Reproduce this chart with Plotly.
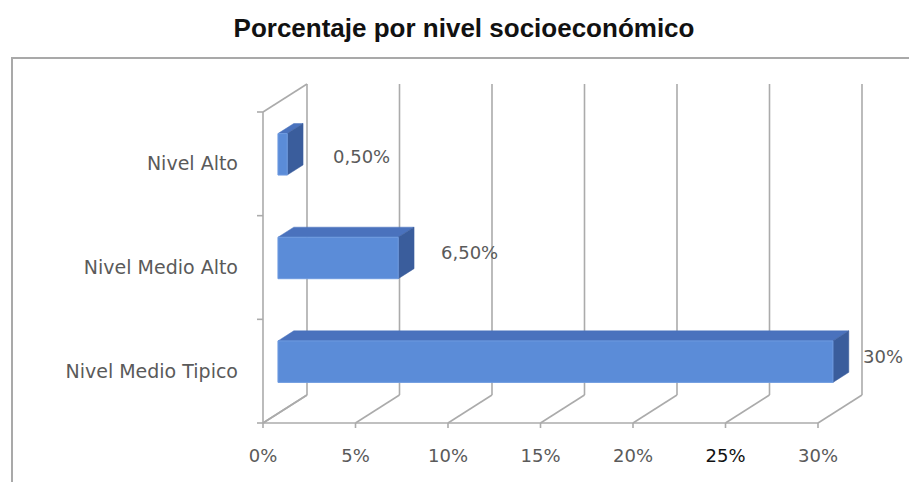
import plotly.graph_objects as go

# ---------------- data ----------------
categories = ["Nivel Medio Tipico", "Nivel Medio Alto", "Nivel Alto"]
values = [30.0, 6.5, 0.5]
value_labels = ["30%", "6,50%", "0,50%"]
x_ticks = [0, 5, 10, 15, 20, 25, 30]
x_tick_labels = ["0%", "5%", "10%", "15%", "20%", "25%", "30%"]

# ---------------- style ----------------
W, H = 909, 482
ML, MR, MT, MB = 256, 6, 82, 53
KX = 18.5        # px per percent
KY = 103.67      # px per category
X0 = -7 / KX
X1 = X0 + (W - ML - MR) / KX
Y0 = -0.5 - 6 / KY
Y1 = Y0 + (H - MT - MB) / KY
DX = 44 / KX     # depth offset (x)
DY = 28 / KY     # depth offset (y)
F1, F2 = 0.34, 0.70   # bar front/back depth fractions
BH = 0.2              # half bar height (category units)
GRID = "#ababab"
TXT = "#5a5a5a"
FRONT = "#5b8cd8"
TOP = "#4a72bd"
SIDE = "#3a5d9c"
label_xshift = [12, 25, 28]
label_yshift = [5, 5, -2]
FONT = "DejaVu Sans"

fig = go.Figure()

# walls / floor grid
gx, gy = [], []
ymin, ymax = -0.5, len(categories) - 0.5
# left wall
for seg in [((0, ymin), (0, ymax)), ((0, ymax), (DX, ymax + DY)), ((0, ymin), (DX, ymin + DY))]:
    gx += [seg[0][0], seg[1][0], None]
    gy += [seg[0][1], seg[1][1], None]
for v in x_ticks:
    # back wall vertical gridline
    gx += [v + DX, v + DX, None]
    gy += [ymin + DY, ymax + DY, None]
    # floor diagonal
    gx += [v, v + DX, None]
    gy += [ymin, ymin + DY, None]
# front floor edge
gx += [x_ticks[0], x_ticks[-1], None]
gy += [ymin, ymin, None]
# x tick marks
for v in x_ticks:
    gx += [v, v, None]
    gy += [ymin, ymin - 5 / KY, None]
# y tick marks (category boundaries)
for b in range(len(categories) + 1):
    yb = ymin + b
    gx += [0, -6 / KX, None]
    gy += [yb, yb, None]
fig.add_trace(go.Scatter(x=gx, y=gy, mode="lines", line=dict(color=GRID, width=1.6),
                         hoverinfo="skip", showlegend=False))

# 3D bars
for i, v in enumerate(values):
    cf = i + DY * F1
    cb = i + DY * F2
    xf0, xf1 = DX * F1, v + DX * F1
    xb0, xb1 = DX * F2, v + DX * F2
    # top face
    fig.add_trace(go.Scatter(x=[xf0, xf1, xb1, xb0, xf0], y=[cf + BH, cf + BH, cb + BH, cb + BH, cf + BH],
                             fill="toself", fillcolor=TOP, mode="lines", line=dict(color=TOP, width=0.5),
                             hoverinfo="skip", showlegend=False))
    # side face
    fig.add_trace(go.Scatter(x=[xf1, xb1, xb1, xf1, xf1], y=[cf - BH, cb - BH, cb + BH, cf + BH, cf - BH],
                             fill="toself", fillcolor=SIDE, mode="lines", line=dict(color=SIDE, width=0.5),
                             hoverinfo="skip", showlegend=False))
    # front face
    fig.add_trace(go.Scatter(x=[xf0, xf1, xf1, xf0, xf0], y=[cf - BH, cf - BH, cf + BH, cf + BH, cf - BH],
                             fill="toself", fillcolor=FRONT, mode="lines", line=dict(color="#6f9be0", width=1),
                             hoverinfo="skip", showlegend=False))
    fig.add_annotation(x=xb1, y=cf, text=value_labels[i], showarrow=False, xanchor="left",
                       xshift=label_xshift[i], yshift=label_yshift[i],
                       font=dict(family=FONT, size=18, color=TXT))

tick_text = [t if t != "25%" else "<span style='color:#111111'>25%</span>" for t in x_tick_labels]

fig.update_layout(
    width=W, height=H, autosize=False,
    margin=dict(l=ML, r=MR, t=MT, b=MB, pad=0),
    paper_bgcolor="white", plot_bgcolor="rgba(0,0,0,0)",
    title=dict(text="<b>Porcentaje por nivel socioeconómico</b>", x=464 / W, xanchor="center",
               y=1 - 28 / H, yanchor="middle", yref="container",
               font=dict(family="Liberation Sans", size=26, color="#111111")),
    xaxis=dict(range=[X0, X1], tickvals=x_ticks, ticktext=tick_text, showgrid=False, zeroline=False,
               showline=False, ticks="", ticklabelstandoff=14,
               tickfont=dict(family=FONT, size=18, color=TXT)),
    yaxis=dict(range=[Y0, Y1], tickvals=list(range(len(categories))), ticktext=categories,
               showgrid=False, zeroline=False, showline=False, ticks="", ticklabelstandoff=17,
               tickfont=dict(family=FONT, size=19, color=TXT)),
    shapes=[dict(type="rect", xref="paper", yref="paper",
                 x0=(12 - ML) / (W - ML - MR), x1=1.2,
                 y0=-0.5, y1=(H - MB - 58) / (H - MT - MB),
                 line=dict(color="#a9a9a9", width=2), fillcolor="rgba(0,0,0,0)")],
)

fig.write_html("out.html")
